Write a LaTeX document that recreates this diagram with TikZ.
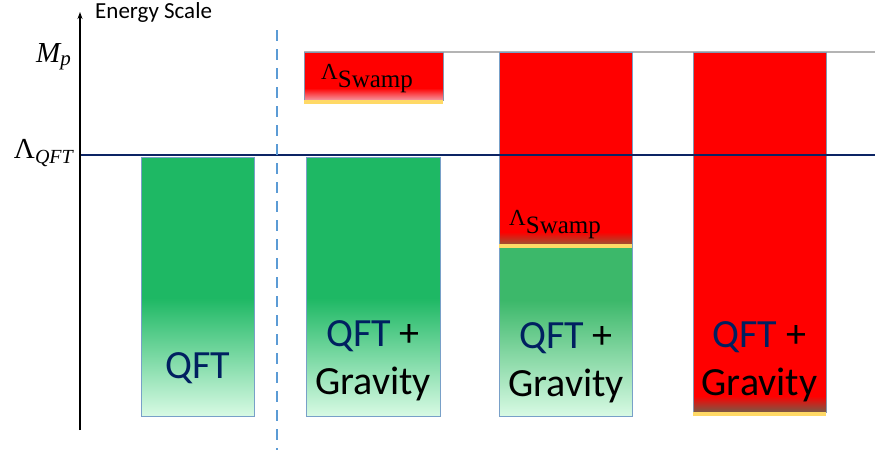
\documentclass[tikz,border=0pt]{standalone}
\usepackage[no-math]{fontspec}
\setmainfont{Carlito}
\newfontfamily\libserif{Liberation Serif}
\usetikzlibrary{arrows.meta}
\definecolor{qgreen}{RGB}{30,184,100}
\definecolor{qgreentwo}{RGB}{60,184,106}
\definecolor{qlight}{RGB}{216,250,228}
\definecolor{qborder}{RGB}{120,160,200}
\definecolor{rborder}{RGB}{132,151,176}
\definecolor{navyq}{RGB}{0,32,96}
\definecolor{lineq}{RGB}{12,36,100}
\definecolor{dashblue}{RGB}{91,155,213}
\definecolor{yline}{RGB}{255,217,102}
\definecolor{mpgrey}{RGB}{180,180,180}
\definecolor{pinkq}{RGB}{244,150,160}
\definecolor{brownq}{RGB}{160,80,50}
\definecolor{darkq}{RGB}{120,90,70}
\newcommand{\swampsym}{{\libserif\fontsize{23}{26}\selectfont Λ}\raisebox{-8pt}{\libserif\fontsize{25}{28}\selectfont Swamp}}
\begin{document}
\begin{tikzpicture}[x=1pt,y=-1pt,
  bigtext/.style={font=\fontsize{40}{48}\selectfont, align=center, inner sep=0pt},
  swamplabel/.style={inner sep=0pt, anchor=base west},
  axislabel/.style={inner sep=0pt, anchor=base east},
  greenborder/.style={draw=qborder, line width=0.8pt},
  redborder/.style={draw=rborder, line width=0.8pt},
  yellowbar/.style={fill=yline}]
\useasboundingbox (0,0) rectangle (875,450);

% reference lines
\coordinate (mpL) at (304,52);
\coordinate (mpR) at (875,52);
\draw[mpgrey, line width=1.5pt] (mpL) -- (mpR);

% Box 1: QFT
\fill[qgreen] (141,157) rectangle (254,298);
\shade[top color=qgreen, bottom color=qlight] (141,298) rectangle (254,416);
\draw[greenborder] (141,157) rectangle (254,416);
\node[bigtext, text=navyq] (t1) at (197.5,368) {QFT};

% Box 2: QFT + Gravity
\fill[qgreen] (306,157) rectangle (440,298);
\shade[top color=qgreen, bottom color=qlight] (306,298) rectangle (440,416);
\draw[greenborder] (306,157) rectangle (440,416);
\node[bigtext] (t2) at (373,361) {\textcolor{navyq}{QFT} +\\Gravity};

% small swamp box
\fill[red] (304,52) rectangle (443,88);
\shade[top color=red, bottom color=pinkq] (304,88) rectangle (443,100);
\draw[redborder] (304,52) rectangle (443,100);
\fill[yellowbar] (304,100) rectangle (443,104);
\node[swamplabel] (s1) at (321,79) {\swampsym};

% Box 3
\fill[red] (499,52) rectangle (632,232);
\shade[top color=red, bottom color=brownq] (499,232) rectangle (632,244);
\fill[qgreentwo] (499,248) rectangle (632,300);
\shade[top color=qgreentwo, bottom color=qlight] (499,300) rectangle (632,416);
\draw[greenborder] (499,52) rectangle (632,416);
\fill[yellowbar] (499,244) rectangle (632,248);
\node[swamplabel] (s2) at (509,225) {\swampsym};
\node[bigtext] (t3) at (566,363) {\textcolor{navyq}{QFT} +\\Gravity};

% Box 4
\fill[red] (693,52) rectangle (826,396);
\shade[top color=red, bottom color=darkq] (693,396) rectangle (826,412);
\draw[redborder] (693,52) rectangle (826,412);
\fill[yellowbar] (693,412) rectangle (826,416);
\node[bigtext] (t4) at (759.5,362) {\textcolor{navyq}{QFT} +\\Gravity};

% QFT cutoff line
\coordinate (qL) at (80,155);
\coordinate (qR) at (875,155);
\draw[lineq, line width=2pt] (qL) -- (qR);

% dashed separator
\coordinate (dTop) at (277,30);
\coordinate (dBot) at (277,450);
\draw[dashblue, line width=2pt, dash pattern=on 11pt off 8pt] (dTop) -- (dBot);

% axis
\coordinate (aBot) at (80,430);
\coordinate (aTop) at (80,12);
\draw[line width=1.5pt, -{Stealth[length=7pt,width=5pt]}] (aBot) -- (aTop);
\node[font=\fontsize{23}{26}\selectfont, anchor=base west, inner sep=0pt] (es) at (95,18) {Energy Scale};

\node[axislabel] (mp) at (71,62) {\libserif\fontsize{29}{32}\selectfont\itshape M\raisebox{-3pt}{\fontsize{21}{24}\selectfont p}};
\node[axislabel] (lq) at (73,158) {\libserif\fontsize{29}{32}\selectfont Λ\raisebox{-5pt}{\fontsize{20}{24}\selectfont\itshape QFT}};
\end{tikzpicture}
\end{document}
